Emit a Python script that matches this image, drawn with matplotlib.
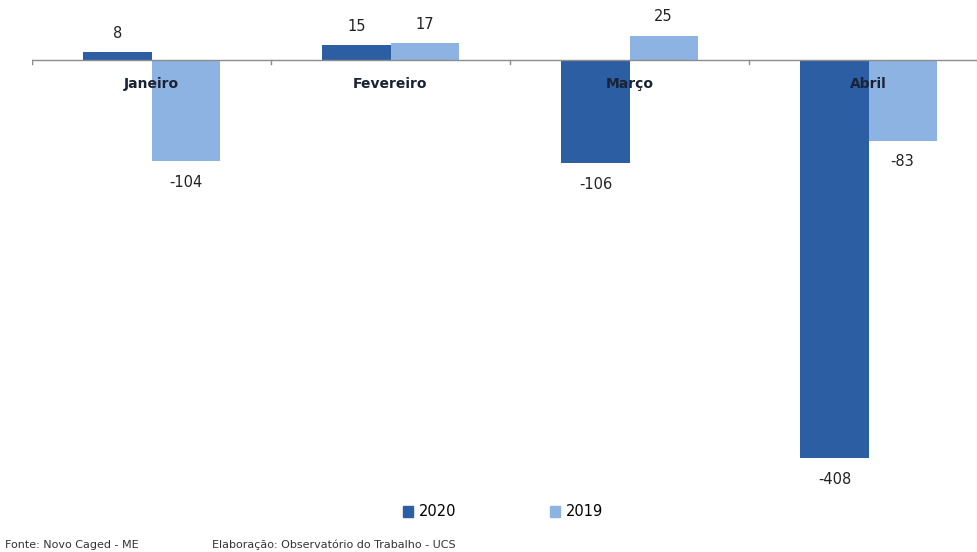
import numpy as np
import matplotlib.pyplot as plt
from matplotlib.patches import Patch

months = ["Janeiro", "Fevereiro", "Março", "Abril"]
v2020 = [8, 15, -106, -408]
v2019 = [-104, 17, 25, -83]

dark = "#2B5EA2"
light = "#8DB3E2"


def main():
    fig = plt.figure(figsize=(9.78, 5.52), dpi=100)
    # axis extends slightly past the right edge, like the cropped original
    ax = fig.add_axes([32 / 978, 1 - 470 / 552, 956 / 978, 470 / 552])
    px = 0.9755  # pixels per unit
    ax.set_ylim(-(470 - 60) / px, 60 / px)
    ax.set_xlim(-0.5, 3.5)

    x = np.arange(len(months))
    w = 0.285
    b1 = ax.bar(x - w / 2, v2020, w, color=dark, zorder=2)
    b2 = ax.bar(x + w / 2, v2019, w, color=light, zorder=2)

    for bars, vals in ((b1, v2020), (b2, v2019)):
        for r, v in zip(bars, vals):
            off = 19 if v > 0 else -21
            ax.annotate(str(v), (r.get_x() + r.get_width() / 2, v),
                        xytext=(0, off), textcoords="offset pixels",
                        ha="center", va="center", fontsize=10.5, color="#222222")

    for xi, m in zip(x, months):
        ax.annotate(m, (xi, 0), xytext=(0, -24), textcoords="offset pixels",
                    ha="center", va="center", fontsize=10, fontweight="bold",
                    color="#1a2335", zorder=5)

    ax.axhline(0, color="#8c8c8c", lw=1, zorder=3)
    for xb in np.arange(-0.5, 4, 1):
        ax.plot([xb, xb], [0, -4 / px], color="#8c8c8c", lw=1, zorder=3)

    for s in ax.spines.values():
        s.set_visible(False)
    ax.set_xticks([])
    ax.set_yticks([])

    handles = [Patch(color=dark, label="2020"), Patch(color=light, label="2019")]
    fig.legend(handles=handles, loc="center", bbox_to_anchor=(503 / 978, 1 - 512 / 552),
               ncol=2, frameon=False, fontsize=10.5, handlelength=0.7, handleheight=0.7,
               handletextpad=0.4, columnspacing=6.4)

    fig.text(5 / 978, 1 - 545 / 552, "Fonte: Novo Caged - ME", fontsize=8,
             va="center", color="#333333")
    fig.text(212 / 978, 1 - 545 / 552, "Elaboração: Observatório do Trabalho - UCS",
             fontsize=8, va="center", color="#333333")

    fig.savefig("out.png", dpi=100)


if __name__ == "__main__":
    main()
